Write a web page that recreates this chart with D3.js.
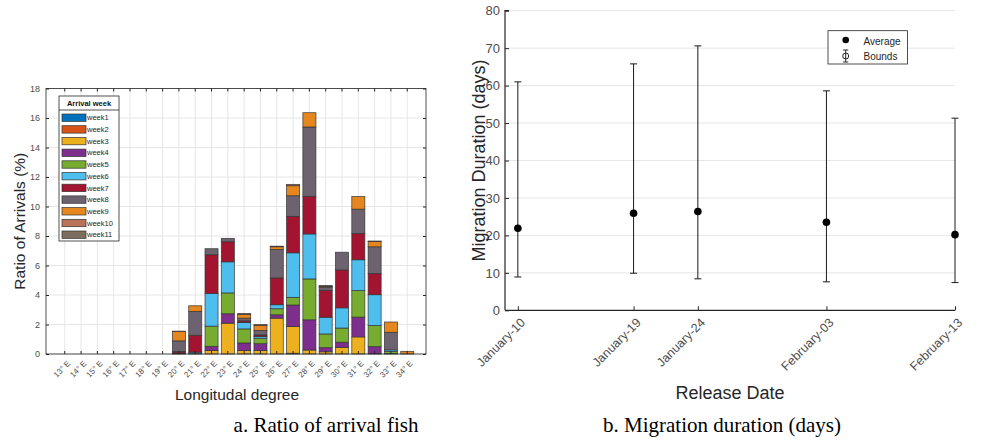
<!DOCTYPE html>
<html><head><meta charset="utf-8">
<script src="https://cdn.jsdelivr.net/npm/d3@7/dist/d3.min.js"></script>
<style>
body{margin:0;background:#fff;}
svg{display:block;font-family:"Liberation Sans",Arial,sans-serif;}
</style></head>
<body><svg id="c" width="992" height="442"></svg>
<script>
// ---------- Data: left chart ----------
const longitudes = [13,14,15,16,17,18,19,20,21,22,23,24,25,26,27,28,29,30,31,32,33,34];
const weekNames = ["week1","week2","week3","week4","week5","week6","week7","week8","week9","week10","week11"];
const weekColors = ["#0072BD","#D95319","#EDB120","#7E2F8E","#77AC30","#4DBEEE","#A2142F","#6C6270","#E6861E","#BA7259","#7E6E5E"];
//                 13 14 15 16 17 18 19  20    21    22    23    24    25    26    27    28    29    30    31    32    33    34
const week1  = [0,0,0,0,0,0,0, 0,    0,    0,    0,    0,    0,    0,    0,    0,    0,    0,    0,    0,    0.03, 0];
const week2  = [0,0,0,0,0,0,0, 0,    0,    0,    0,    0,    0,    0,    0.05, 0,    0,    0,    0,    0,    0,    0];
const week3  = [0,0,0,0,0,0,0, 0.02, 0,    0.23, 2.09, 0.23, 0.23, 2.43, 1.81, 0.27, 0.15, 0.45, 1.16, 0.02, 0,    0];
const week4  = [0,0,0,0,0,0,0, 0.05, 0.02, 0.29, 0.64, 0.52, 0.47, 0.23, 1.46, 2.05, 0.28, 0.35, 1.34, 0.48, 0,    0];
const week5  = [0,0,0,0,0,0,0, 0,    0,    1.37, 1.41, 0.95, 0.37, 0.41, 0.52, 2.77, 0.93, 0.96, 1.80, 1.43, 0.14, 0];
const week6  = [0,0,0,0,0,0,0, 0,    0.10, 2.22, 2.11, 0.44, 0.11, 0.27, 3.02, 3.05, 1.13, 1.37, 2.09, 2.09, 0.11, 0];
const week7  = [0,0,0,0,0,0,0, 0.10, 1.15, 2.62, 1.36, 0.11, 0.11, 1.82, 2.47, 2.55, 1.83, 2.57, 1.77, 1.43, 0,    0];
const week8  = [0,0,0,0,0,0,0, 0.72, 1.62, 0.41, 0.23, 0.18, 0.31, 1.93, 1.40, 4.70, 0.20, 1.20, 1.66, 1.82, 1.19, 0];
const week9  = [0,0,0,0,0,0,0, 0.63, 0.38, 0,    0,    0.25, 0.33, 0.18, 0.68, 0.97, 0.06, 0,    0.86, 0.35, 0.70, 0.18];
const week10 = [0,0,0,0,0,0,0, 0.03, 0,    0,    0,    0.07, 0.07, 0.04, 0.09, 0,    0,    0,    0,    0.04, 0,    0];
const week11 = [0,0,0,0,0,0,0, 0,    0,    0,    0,    0,    0,    0,    0,    0,    0.07, 0,    0,    0,    0,    0];
const weekSeries = [week1,week2,week3,week4,week5,week6,week7,week8,week9,week10,week11];
const leftYTicks = [0,2,4,6,8,10,12,14,16,18];

// ---------- Data: right chart ----------
const releaseDates = ["2020-01-10","2020-01-19","2020-01-24","2020-02-03","2020-02-13"];
const averageDays = [21.9, 25.9, 26.4, 23.5, 20.2];
const lowerBound  = [8.9, 9.9, 8.4, 7.6, 7.4];
const upperBound  = [61.0, 65.8, 70.6, 58.6, 51.3];
const rightYTicks = [0,10,20,30,40,50,60,70,80];

const svg = d3.select("#c");
const axisCol = "#262626", tickTextCol = "#4d4d4d", gridCol = "#e6e6e6";

// ================= LEFT CHART =================
(function(){
  const L = {x0:46, x1:426, y0:354, y1:88.5};
  const rows = longitudes.map((lon,i)=>{
    const r = {lon};
    weekNames.forEach((w,k)=> r[w] = weekSeries[k][i]);
    return r;
  });
  const x = d3.scaleBand().domain(longitudes).range([L.x0,L.x1]).paddingInner(0.2).paddingOuter(0.75);
  const y = d3.scaleLinear().domain([0,18]).range([L.y0,L.y1]);
  const g = svg.append("g");

  g.append("g").selectAll("line.h").data(leftYTicks).join("line")
    .attr("x1",L.x0).attr("x2",L.x1).attr("y1",d=>y(d)).attr("y2",d=>y(d))
    .attr("stroke",gridCol).attr("stroke-width",1);
  g.append("g").selectAll("line.v").data(longitudes).join("line")
    .attr("x1",d=>x(d)+x.bandwidth()/2).attr("x2",d=>x(d)+x.bandwidth()/2)
    .attr("y1",L.y0).attr("y2",L.y1).attr("stroke",gridCol).attr("stroke-width",1);

  const stack = d3.stack().keys(weekNames)(rows);
  stack.forEach((layer,k)=>{
    g.append("g").selectAll("rect").data(layer.filter(d=>d[1]-d[0]>0)).join("rect")
      .attr("x",d=>x(d.data.lon)).attr("width",x.bandwidth())
      .attr("y",d=>y(d[1])).attr("height",d=>y(d[0])-y(d[1]))
      .attr("fill",weekColors[k]).attr("stroke","#333").attr("stroke-width",0.8)
      .attr("stroke-opacity",0.85);
  });

  const yAx = g.append("g").attr("transform",`translate(${L.x0},0)`)
    .call(d3.axisLeft(y).tickValues(leftYTicks).tickSize(-3).tickPadding(6));
  const xAx = g.append("g").attr("transform",`translate(0,${L.y0})`)
    .call(d3.axisBottom(x).tickSize(-3).tickFormat(""));
  [yAx,xAx].forEach(a=>{
    a.select(".domain").remove();
    a.selectAll(".tick line").attr("stroke",axisCol);
    a.selectAll("text").attr("fill",tickTextCol).style("font-size","9px");
  });
  const yAxR = g.append("g").attr("transform",`translate(${L.x1},0)`)
    .call(d3.axisRight(y).tickValues(leftYTicks).tickSize(-3).tickFormat(""));
  const xAxT = g.append("g").attr("transform",`translate(0,${L.y1})`)
    .call(d3.axisTop(x).tickSize(-3).tickFormat(""));
  [yAxR,xAxT].forEach(a=>{a.select(".domain").remove(); a.selectAll(".tick line").attr("stroke",axisCol);});

  g.append("rect").attr("x",L.x0).attr("y",L.y1).attr("width",L.x1-L.x0).attr("height",L.y0-L.y1)
    .attr("fill","none").attr("stroke",axisCol).attr("stroke-width",0.8);

  g.append("g").selectAll("text").data(longitudes).join("text")
    .attr("transform",d=>`translate(${x(d)+x.bandwidth()/2+4},${L.y0+8}) rotate(-45)`)
    .attr("text-anchor","end").attr("dy","0.35em")
    .attr("fill",tickTextCol).style("font-size","8px")
    .text(d=>d+"° E");

  g.append("text").attr("x",237).attr("y",400).attr("text-anchor","middle")
    .attr("fill","#262626").style("font-size","15.5px").text("Longitudal degree");
  g.append("text").attr("transform",`translate(25,${(L.y0+L.y1)/2}) rotate(-90)`)
    .attr("text-anchor","middle").attr("fill","#262626").style("font-size","15.5px").text("Ratio of Arrivals (%)");

  const lg = g.append("g");
  const lx=59, ly=96, lw=60, lh=145;
  lg.append("rect").attr("x",lx).attr("y",ly).attr("width",lw).attr("height",lh)
    .attr("fill","#fff").attr("stroke","#262626").attr("stroke-width",0.8);
  lg.append("text").attr("x",lx+lw/2).attr("y",ly+9.5).attr("text-anchor","middle")
    .style("font-size","7.5px").style("font-weight","bold").attr("fill","#111").text("Arrival week");
  lg.append("line").attr("x1",lx).attr("x2",lx+lw).attr("y1",ly+14).attr("y2",ly+14).attr("stroke","#262626").attr("stroke-width",0.8);
  weekNames.forEach((w,k)=>{
    const yy = 117.7 + k*11.7;
    lg.append("rect").attr("x",62).attr("y",yy-3.7).attr("width",24).attr("height",7.4)
      .attr("fill",weekColors[k]).attr("stroke","#333").attr("stroke-width",0.7);
    lg.append("text").attr("x",87).attr("y",yy).attr("dy","0.35em")
      .style("font-size","7.5px").attr("fill","#262626").text(w);
  });

  svg.append("text").attr("x",326).attr("y",432).attr("text-anchor","middle")
    .style("font-family","'Liberation Serif','Times New Roman',serif").style("font-size","21px")
    .attr("fill","#000").text("a. Ratio of arrival fish");
})();

// ================= RIGHT CHART =================
(function(){
  const R = {x0:505, x1:955, y0:310.3, y1:10.7};
  const parse = d3.timeParse("%Y-%m-%d");
  const dates = releaseDates.map(parse);
  const x = d3.scaleTime().domain([d3.timeDay.offset(dates[0],-1), dates[dates.length-1]]).range([R.x0,R.x1]);
  const y = d3.scaleLinear().domain([0,80]).range([R.y0,R.y1]);
  const g = svg.append("g");

  g.append("g").selectAll("line").data(rightYTicks.filter(d=>d>0)).join("line")
    .attr("x1",R.x0).attr("x2",R.x1).attr("y1",d=>y(d)).attr("y2",d=>y(d))
    .attr("stroke",gridCol).attr("stroke-width",1);

  const yAx = g.append("g").attr("transform",`translate(${R.x0},0)`)
    .call(d3.axisLeft(y).tickValues(rightYTicks).tickSize(-4).tickPadding(5));
  const xAx = g.append("g").attr("transform",`translate(0,${R.y0})`)
    .call(d3.axisBottom(x).tickValues(dates).tickSize(-4).tickFormat(""));
  [yAx,xAx].forEach(a=>{
    a.select(".domain").attr("stroke",axisCol).attr("stroke-width",1.2);
    a.selectAll(".tick line").attr("stroke",axisCol);
    a.selectAll("text").attr("fill",tickTextCol).style("font-size","13px");
  });
  yAx.select(".domain").attr("d",`M0,${R.y0}V${R.y1}H4`);
  xAx.select(".domain").attr("d",`M${R.x0},0H${R.x1}`);

  const fmt = d3.timeFormat("%B-%d");
  g.append("g").selectAll("text").data(dates).join("text")
    .attr("transform",d=>`translate(${x(d)+5},${R.y0+10}) rotate(-45)`)
    .attr("text-anchor","end").attr("dy","0.35em")
    .attr("fill",tickTextCol).style("font-size","12.5px").text(d=>fmt(d));

  const eb = g.append("g").attr("stroke","#1a1a1a").attr("stroke-width",1);
  dates.forEach((d,i)=>{
    const cx = x(d);
    eb.append("line").attr("x1",cx).attr("x2",cx).attr("y1",y(lowerBound[i])).attr("y2",y(upperBound[i]));
    eb.append("line").attr("x1",cx-3.5).attr("x2",cx+3.5).attr("y1",y(lowerBound[i])).attr("y2",y(lowerBound[i]));
    eb.append("line").attr("x1",cx-3.5).attr("x2",cx+3.5).attr("y1",y(upperBound[i])).attr("y2",y(upperBound[i]));
  });
  g.append("g").selectAll("circle").data(dates).join("circle")
    .attr("cx",d=>x(d)).attr("cy",(d,i)=>y(averageDays[i])).attr("r",3.8).attr("fill","#000");

  g.append("text").attr("x",730).attr("y",399).attr("text-anchor","middle")
    .attr("fill","#262626").style("font-size","18px").text("Release Date");
  g.append("text").attr("transform",`translate(485,${(R.y0+R.y1)/2}) rotate(-90)`)
    .attr("text-anchor","middle").attr("fill","#262626").style("font-size","18px").text("Migration Duration (days)");

  const lg = g.append("g");
  lg.append("rect").attr("x",828).attr("y",30.7).attr("width",79.5).attr("height",33.3)
    .attr("fill","#fff").attr("stroke","#262626").attr("stroke-width",0.8);
  lg.append("circle").attr("cx",845.7).attr("cy",40).attr("r",3.3).attr("fill","#000");
  lg.append("text").attr("x",863.5).attr("y",41).attr("dy","0.35em").style("font-size","10px").attr("fill","#262626").text("Average");
  const ex=845.7, ey=56;
  lg.append("line").attr("x1",ex).attr("x2",ex).attr("y1",ey-6).attr("y2",ey+6).attr("stroke","#262626");
  lg.append("line").attr("x1",ex-2.5).attr("x2",ex+2.5).attr("y1",ey-6).attr("y2",ey-6).attr("stroke","#262626");
  lg.append("line").attr("x1",ex-2.5).attr("x2",ex+2.5).attr("y1",ey+6).attr("y2",ey+6).attr("stroke","#262626");
  lg.append("circle").attr("cx",ex).attr("cy",ey).attr("r",3).attr("fill","none").attr("stroke","#262626");
  lg.append("text").attr("x",863.5).attr("y",56).attr("dy","0.35em").style("font-size","10px").attr("fill","#262626").text("Bounds");

  svg.append("text").attr("x",722).attr("y",432).attr("text-anchor","middle")
    .style("font-family","'Liberation Serif','Times New Roman',serif").style("font-size","21px")
    .attr("fill","#000").text("b. Migration duration (days)");
})();
</script>
</body></html>
